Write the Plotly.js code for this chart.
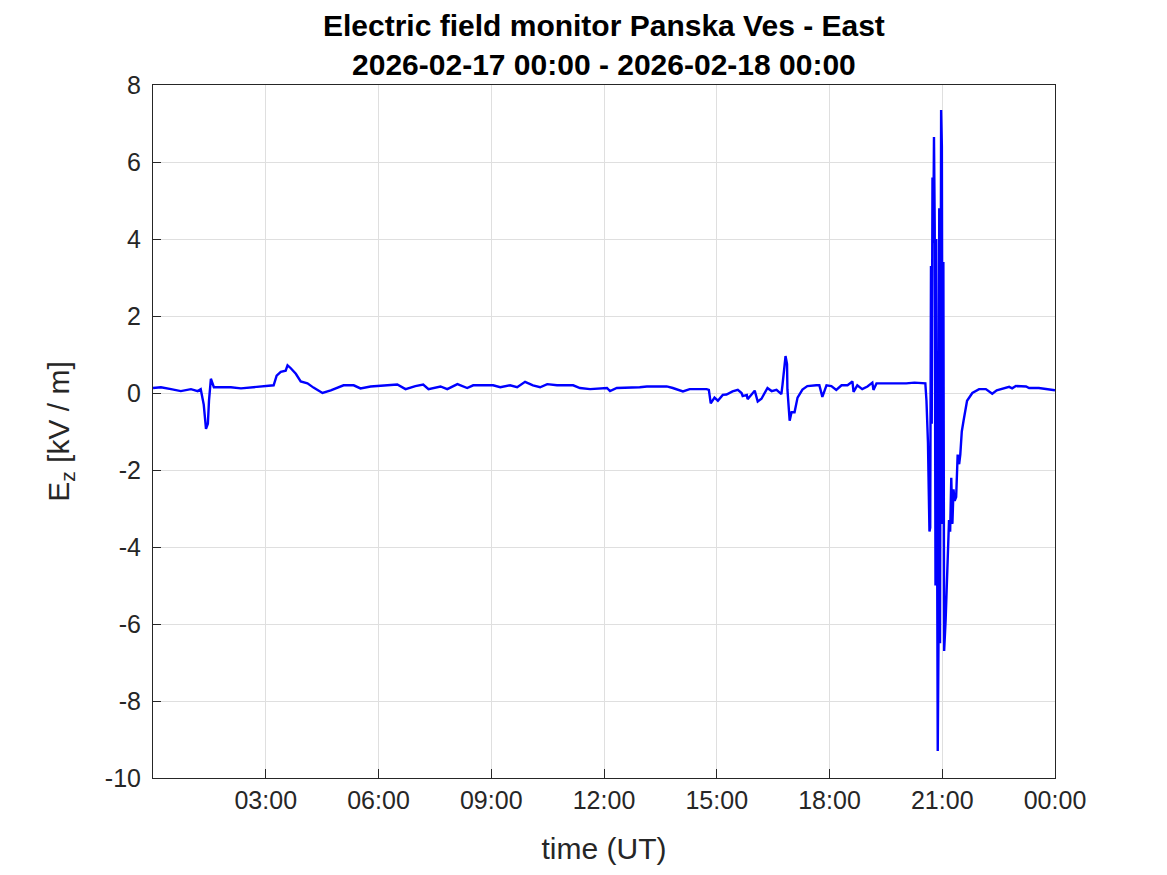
<!DOCTYPE html>
<html>
<head>
<meta charset="utf-8">
<script src="https://cdn.plot.ly/plotly-3.0.1.min.js"></script>
<style>html,body{margin:0;padding:0;background:#fff;}#chart{width:1167px;height:875px;}</style>
</head>
<body>
<div id="chart"></div>
<script>
// time in hours since 2026-02-17 00:00 UT
const timeHours = [
  0.00,0.21,0.48,0.74,1.01,1.19,1.27,1.35,1.41,1.46,1.49,1.54,1.62,2.07,2.34,2.73,3.05,3.21,3.29,3.40,3.53,3.58,3.66,3.80,3.93,4.11,4.27,4.51,4.73,5.07,5.34,5.52,5.79,6.13,6.50,6.72,6.98,7.19,7.33,7.65,
  7.83,8.10,8.36,8.52,8.79,9.05,9.24,9.50,9.69,9.90,10.11,10.30,10.49,10.75,11.18,11.36,11.63,12.08,12.16,12.34,12.95,13.14,13.67,13.83,14.10,14.28,14.73,14.79,14.84,14.94,15.03,15.16,15.26,15.42,15.56,15.66,15.69,15.80,15.82,16.01,16.09,16.19,16.35,16.46,16.59,16.72,16.75,16.83,16.87,16.88,16.94,16.99,17.07,17.15,17.28,17.41,17.65,17.73,17.81,17.92,18.05,18.18,18.32,18.48,18.61,18.64,18.74,18.87,19.01,19.14,19.17,19.25,19.59,20.04,20.26,20.47,20.55,
  20.58,20.60,20.62,20.64,20.66,20.68,20.70,20.72,20.74,20.76,20.78,20.80,20.82,20.84,20.86,20.88,20.90,20.92,20.94,20.97,20.99,21.01,21.03,21.05,21.09,21.12,21.15,21.18,21.21,21.24,21.27,21.30,21.33,21.37,21.41,21.45,21.48,21.52,21.57,21.62,21.66,21.80,21.98,22.16,22.33,22.45,22.78,22.86,22.96,23.23,23.31,23.57,23.76,24.00
];
const ezValues = [
  0.13,0.15,0.10,0.05,0.10,0.05,0.10,-0.30,-0.93,-0.80,-0.20,0.37,0.15,0.15,0.12,0.15,0.17,0.20,0.45,0.55,0.58,0.72,0.65,0.50,0.30,0.25,0.14,0.00,0.07,0.20,0.20,0.12,0.17,0.20,0.22,0.10,0.18,0.22,0.10,0.17,
  0.10,0.23,0.13,0.20,0.20,0.20,0.15,0.20,0.15,0.29,0.20,0.15,0.23,0.20,0.20,0.13,0.10,0.13,0.05,0.13,0.15,0.17,0.17,0.13,0.04,0.10,0.10,0.08,-0.27,-0.12,-0.20,-0.05,-0.04,0.04,0.08,0.00,-0.08,-0.05,-0.16,0.06,-0.22,-0.15,0.13,0.05,0.08,-0.03,0.22,0.96,0.75,0.10,-0.72,-0.50,-0.50,-0.12,0.09,0.18,0.20,0.20,-0.10,0.20,0.18,0.08,0.20,0.20,0.30,0.03,0.20,0.10,0.17,0.27,0.08,0.25,0.25,0.25,0.27,0.25,0.25,
  -0.20,-0.60,-1.30,-2.50,-3.60,-3.50,3.30,-0.80,5.60,3.90,6.65,4.30,-5.00,4.00,-5.06,-9.30,-6.50,4.80,-6.50,7.35,6.40,-3.40,3.40,-6.70,-5.90,-4.80,-4.20,-3.30,-3.60,-2.20,-3.40,-2.50,-2.80,-2.70,-1.60,-1.85,-1.60,-1.00,-0.70,-0.38,-0.20,0.00,0.10,0.10,-0.02,0.07,0.16,0.12,0.18,0.17,0.13,0.13,0.10,0.07
];
const xTickVals = [3,6,9,12,15,18,21,24];
const xTickText = ["03:00","06:00","09:00","12:00","15:00","18:00","21:00","00:00"];
const yTickVals = [-10,-8,-6,-4,-2,0,2,4,6,8];
const yTickText = ["-10","-8","-6","-4","-2","0","2","4","6","8"];

const FONT = 'Liberation Sans, Arial, sans-serif';
const trace = {
  x: timeHours, y: ezValues, type: 'scatter', mode: 'lines',
  line: {color: '#0000ff', width: 2.4}, hoverinfo: 'skip'
};
const axisCommon = {
  showline: true, linecolor: '#262626', linewidth: 1, mirror: true,
  ticks: 'inside', tickcolor: '#262626', gridcolor: '#dfdfdf', gridwidth: 1,
  zeroline: false, tickfont: {family: FONT, size: 25, color: '#262626'}
};
const layout = {
  width: 1167, height: 875, paper_bgcolor: '#ffffff', plot_bgcolor: '#ffffff',
  margin: {l: 153, r: 112, t: 85, b: 97},
  showlegend: false,
  title: {
    text: '<b>Electric field monitor Panska Ves - East</b><br><b>2026-02-17 00:00 - 2026-02-18 00:00</b>',
    font: {family: FONT, size: 30, color: '#000000'},
    x: 0.5175, xanchor: 'center', y: 0.959, yanchor: 'middle'
  },
  xaxis: Object.assign({}, axisCommon, {
    range: [0, 24], tickvals: xTickVals, ticktext: xTickText, ticklen: 9,
    title: {text: 'time (UT)', font: {family: FONT, size: 30, color: '#262626'}, standoff: 24}
  }),
  yaxis: Object.assign({}, axisCommon, {
    range: [-10, 8], tickvals: yTickVals, ticktext: yTickText, ticklen: 8, ticklabelstandoff: 6,
    title: {text: 'E<sub>z</sub> [kV / m]', font: {family: FONT, size: 30, color: '#262626'}, standoff: 26}
  })
};
Plotly.newPlot('chart', [trace], layout, {displayModeBar: false, staticPlot: true});
</script>
</body>
</html>
